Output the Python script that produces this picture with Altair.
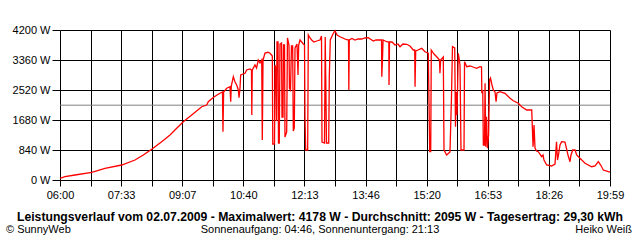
import altair as alt
import pandas as pd

# minutes after 06:00
minutes = [0, 7.6, 22.9, 48.4, 68.6, 94.1, 114.4, 127.1, 139.9, 155.1, 167.8, 178.0, 188.1, 200.9, 216.2, 223.8, 226.2, 233.9, 239.5, 244.1,
           247.9, 248.6, 249.6, 254.3, 259.3, 260.4, 261.3, 264.4, 267.0, 269.6, 272.0, 273.1, 274.6, 275.6, 282.2, 284.8, 289.8, 292.1, 292.6, 293.3,
           297.5, 299.8, 302.5, 305.1, 307.7, 308.6, 309.7, 312.7, 317.3, 320.4, 323.9, 324.6, 327.2, 328.0, 329.5, 330.3, 331.0, 332.6, 333.3, 334.5,
           335.6, 337.9, 338.7, 340.2, 340.9, 342.5, 343.2, 345.8, 347.0, 349.3, 350.0, 351.6, 353.1, 354.9, 355.9, 357.4, 358.5, 361.5, 363.1, 364.1,
           366.1, 371.2, 373.0, 373.7, 374.8, 377.8, 378.8, 381.4, 383.9, 387.4, 391.6, 396.6, 398.9, 399.7, 403.5, 404.6, 405.5, 406.5, 409.9, 410.8,
           412.3, 414.5, 417.2, 419.5, 422.6, 427.1, 432.2, 436.3, 440.1, 440.6, 441.3, 445.4, 450.0, 454.6, 460.2, 465.3, 470.3, 474.4, 477.9, 482.0,
           488.2, 490.5, 490.9, 492.0, 492.8, 498.4, 501.6, 501.9, 502.7, 506.5, 511.0, 515.6, 518.7, 523.2, 528.9, 533.9, 538.9, 541.1, 541.6, 542.6,
           546.1, 551.8, 556.8, 561.8, 562.9, 564.0, 565.5, 566.4, 570.5, 574.6, 578.9, 579.6, 580.7, 584.7, 585.8, 589.8, 594.9, 597.2, 598.7, 602.1,
           603.3, 604.5, 605.6, 607.6, 610.2, 611.7, 616.3, 617.1, 620.4, 625.5, 630.0, 635.7, 640.7, 643.0, 643.5, 644.9, 645.8, 647.6, 648.4, 649.5,
           650.7, 652.0, 653.8, 655.3, 656.7, 659.0, 661.0, 663.6, 665.2, 666.6, 671.2, 678.8, 686.5, 691.5, 699.1, 704.3, 711.9, 719.6, 721.6, 723.1,
           724.6, 726.9, 729.6, 734.8, 736.8, 738.3, 742.4, 750.0, 755.1, 757.4, 758.9, 760.4, 762.7, 765.3, 770.3, 772.6, 774.9, 778.0, 779.5, 782.1,
           785.6, 788.2, 793.2, 800.9, 811.1, 816.2, 821.2, 824.8, 828.8, 836.5, 839.0]

watts = [48, 92, 140, 216, 328, 420, 560, 700, 860, 1072, 1260, 1448, 1632, 1820, 2052, 2100, 2192, 2310, 2380, 2428,
         2464, 1352, 2464, 2568, 2612, 2192, 2632, 2892, 2744, 2660, 2520, 2304, 2576, 2940, 2988, 3080, 3108, 3080, 1820, 3080,
         3220, 3136, 3360, 3276, 3360, 1120, 3360, 3556, 3576, 3548, 3472, 1008, 1008, 3220, 3080, 1652, 3864, 3864, 1036, 1036,
         3808, 3836, 1764, 1764, 3780, 3780, 1204, 1344, 3976, 3780, 2576, 2520, 3752, 3752, 1372, 1456, 3696, 3808, 2940, 3780,
         3920, 3808, 3780, 1764, 840, 840, 4060, 3976, 3920, 3864, 3892, 3920, 4032, 1064, 1036, 4004, 2716, 1036, 1036, 2884,
         3920, 4012, 4116, 4178, 4060, 4012, 3968, 3934, 3920, 2520, 3920, 3962, 3920, 3948, 3948, 3976, 3984, 3934, 3892, 3920,
         3920, 3920, 2892, 3416, 3920, 3872, 3864, 2660, 3864, 3864, 3780, 3808, 3732, 3808, 3800, 3752, 3640, 3640, 2612, 3612,
         3640, 3688, 3592, 3548, 2192, 792, 792, 3640, 3528, 3452, 3360, 2988, 3360, 3444, 840, 700, 784, 2332, 3732, 3696,
         1492, 2464, 1820, 3548, 3220, 840, 840, 3312, 3172, 3192, 3164, 3128, 3172, 3164, 2428, 2520, 980, 980, 2708, 932,
         1772, 888, 1260, 2800, 2856, 2660, 2520, 2464, 2192, 2436, 2472, 2428, 2288, 2220, 2148, 2052, 1960, 1960, 932, 1540,
         896, 812, 792, 652, 700, 560, 420, 392, 448, 1072, 560, 700, 980, 1072, 1064, 888, 700, 512, 700, 840,
         840, 700, 608, 468, 372, 392, 512, 420, 280, 232, 224]

x_tick_labels = ["06:00", "07:33", "09:07", "10:40", "12:13", "13:46", "15:20", "16:53", "18:26", "19:59"]
y_ticks = [0, 840, 1680, 2520, 3360, 4200]
average_w = 2095

title_text = "Leistungsverlauf vom 02.07.2009 - Maximalwert: 4178 W - Durchschnitt: 2095 W - Tagesertrag: 29,30 kWh"
footer_left = "© SunnyWeb"
footer_mid = "Sonnenaufgang: 04:46, Sonnenuntergang: 21:13"
footer_right = "Heiko Weiß"

FONT = "Liberation Sans"
span = 839
step = span / 18
tick_vals = [i * step for i in range(19)]
label_arr = [x_tick_labels[i // 2] if i % 2 == 0 else "" for i in range(19)]
label_expr = "[" + ",".join("'%s'" % s for s in label_arr) + "][round(datum.value/%f)]" % step

df = pd.DataFrame({"m": minutes, "w": watts})

x_axis = alt.Axis(values=tick_vals, labelExpr=label_expr, title=None, grid=True,
                  gridColor="black", gridOpacity=1, gridWidth=1, tickColor="black",
                  tickSize=6, tickWidth=1, labelPadding=3, domain=False, labelFont=FONT,
                  labelFontSize=11, labelColor="black", labelOverlap=False, labelFlush=False)
y_axis = alt.Axis(values=y_ticks, labelExpr="datum.value + ' W'", title=None, grid=True,
                  gridColor="black", gridOpacity=1, gridWidth=1, tickColor="black",
                  tickSize=8, tickWidth=1, labelPadding=2, domain=False, labelFont=FONT,
                  labelFontSize=11, labelColor="black", labelOverlap=False, labelFlush=False)
x_scale = alt.Scale(domain=[0, span], nice=False, zero=False)
y_scale = alt.Scale(domain=[0, 4200], nice=False)

rule = alt.Chart(pd.DataFrame({"avg": [average_w]})).mark_rule(color="#808080", strokeWidth=1).encode(
    y=alt.Y("avg:Q", scale=y_scale, axis=y_axis))
line = alt.Chart(df).mark_line(color="#ff0000", strokeWidth=1.3).encode(
    x=alt.X("m:Q", scale=x_scale, axis=x_axis),
    y=alt.Y("w:Q", scale=y_scale, axis=y_axis))


def txt(s, x, y, align, bold=False, size=11):
    return alt.Chart(pd.DataFrame({"t": [s]})).mark_text(
        align=align, baseline="alphabetic", font=FONT, fontSize=size,
        fontWeight="bold" if bold else "normal", color="black"
    ).encode(x=alt.value(x), y=alt.value(y), text="t:N")


chart = alt.layer(
    rule, line,
    txt(title_text, 260, 191, "center", True, 12.2),
    txt(footer_left, -54, 203, "left"),
    txt(footer_mid, 260, 203, "center"),
    txt(footer_right, 572, 203, "right"),
).properties(
    width=550, height=150,
    autosize=alt.AutoSizeParams(type="none"),
    padding={"left": 60, "top": 30, "right": 30, "bottom": 60},
).configure_view(stroke="black", strokeWidth=1).configure(background="white")

chart.save("out.html", embed_options={"renderer": "svg", "actions": False})
